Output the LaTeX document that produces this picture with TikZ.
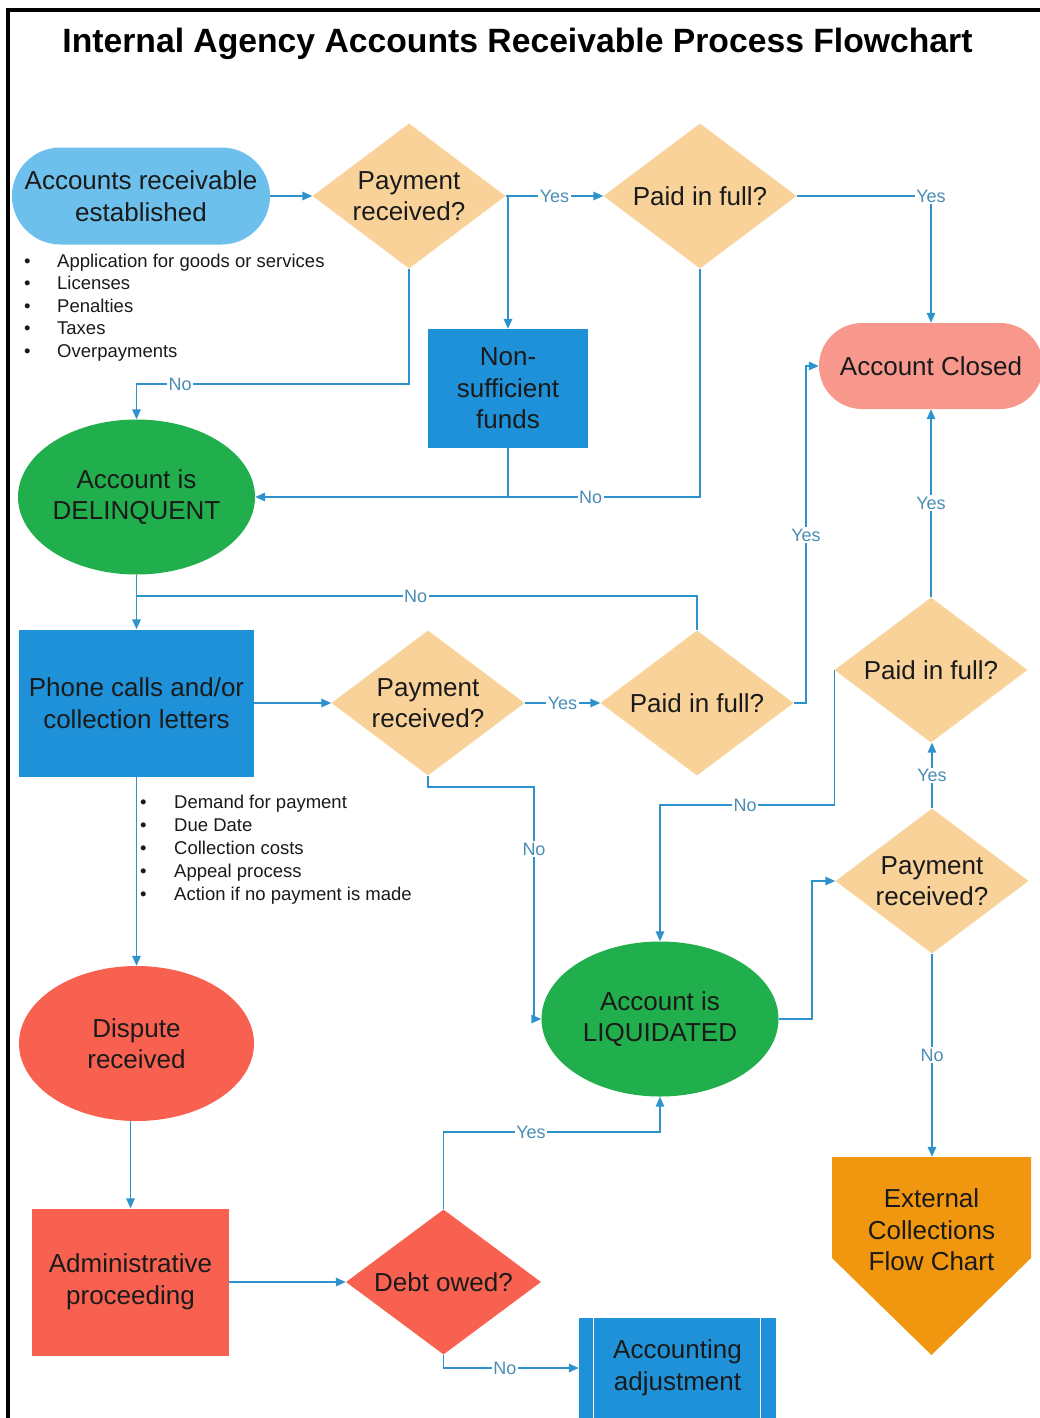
\documentclass[tikz,border=0pt]{standalone}
\usepackage{fontspec}
\setmainfont{Liberation Sans}
\usetikzlibrary{shapes.geometric,arrows.meta,calc}
\definecolor{arblue}{HTML}{6CC0EB}
\definecolor{peach}{HTML}{F9D29A}
\definecolor{boxblue}{HTML}{1E91D8}
\definecolor{leaf}{HTML}{21AE4C}
\definecolor{salmon}{HTML}{F8978B}
\definecolor{tomato}{HTML}{F86150}
\definecolor{amber}{HTML}{F0970F}
\definecolor{wire}{HTML}{2E93CC}
\definecolor{lblc}{HTML}{4A8DB5}
\definecolor{ink}{HTML}{1A1A1A}
\begin{document}
\begin{tikzpicture}[x=1pt,y=-1pt,
  base/.style={inner sep=0pt, align=center, text=ink, font=\fontsize{26}{31.5}\selectfont},
  decision/.style={base, shape=diamond, aspect=1.333, fill=peach, minimum width=193pt, minimum height=145pt},
  stadium/.style={base, rectangle, rounded corners=#1},
  oval/.style={base, ellipse, fill=leaf, minimum width=237pt, minimum height=155pt},
  procbox/.style={base, rectangle, fill=boxblue},
  ln/.style={draw=wire, line width=1.6pt},
  arr/.style={ln, -{Triangle[length=10pt,width=8.5pt]}},
  lbl/.style={fill=white, inner sep=1.5pt, text=lblc, font=\fontsize{18}{20}\selectfont},
  bullet item/.style={anchor=base west, inner sep=0pt, text=ink, font=\fontsize{18.5}{22}\selectfont}
]
\useasboundingbox (0,0) rectangle (1039,1418);
% frame
\draw[line width=4pt, line join=miter] (8,1422) -- (8,10) -- (1043,10);

% title
\node[anchor=base, inner sep=0pt, text=black, font=\fontsize{33.7}{40}\selectfont\bfseries] (title) at (517.5,53) {Internal Agency Accounts Receivable Process Flowchart};

% nodes
\node[stadium=48.5pt, fill=arblue, minimum width=258pt, minimum height=97pt] (ar) at (141,196) {Accounts receivable\\established};
\node[decision] (pr1) at (409,196) {Payment\\received?};
\node[decision] (pf1) at (700,196) {Paid in full?};
\node[procbox, minimum width=160pt, minimum height=119pt] (nsf) at (508,388.5) {Non-\\sufficient\\funds};
\node[stadium=43pt, fill=salmon, minimum width=224pt, minimum height=86pt] (closed) at (931,366) {Account Closed};
\node[oval, minimum width=235pt] (del) at (136.5,497) {Account is\\DELINQUENT};
\node[procbox, minimum width=235pt, minimum height=147pt] (phone) at (136.5,703) {Phone calls and/or\\collection letters};
\node[decision] (pr2) at (428,703) {Payment\\received?};
\node[decision] (pf2) at (697,703) {Paid in full?};
\node[decision] (pf3) at (931,670) {Paid in full?};
\node[decision] (pr3) at (932,881) {Payment\\received?};
\node[oval] (liq) at (660,1019) {Account is\\LIQUIDATED};
\node[oval, fill=tomato, minimum width=235pt] (disp) at (136.5,1043.5) {Dispute\\received};
\node[procbox, fill=tomato, minimum width=197pt, minimum height=147pt] (admin) at (130.5,1282) {Administrative\\proceeding};
\node[decision, fill=tomato, minimum width=195pt] (debt) at (443.5,1282) {Debt owed?};
\node[procbox, minimum width=197pt, minimum height=100pt] (acc) at (677.5,1368) {Accounting\\adjustment};
\draw[white, line width=1.3pt] ([xshift=15pt]acc.north west) -- ([xshift=15pt]acc.south west)
  ([xshift=-16pt]acc.north east) -- ([xshift=-16pt]acc.south east);
\fill[amber] (832,1157) -- (1031,1157) -- (1031,1258) -- (931.5,1355) -- (832,1258) -- cycle;
\node[base, minimum width=199pt, minimum height=146pt] (ext) at (931.5,1230) {External\\Collections\\Flow Chart};

% bullet lists
\foreach \t [count=\i] in {Application for goods or services,Licenses,Penalties,Taxes,Overpayments}
  \node[bullet item] (la\i) at ({24},{244.5+22.5*\i}) {\makebox[33pt][l]{\textbullet}\t};
\foreach \t [count=\i] in {Demand for payment,Due Date,Collection costs,Appeal process,Action if no payment is made}
  \node[bullet item] (lb\i) at ({140},{785.6+22.9*\i}) {\makebox[34pt][l]{\textbullet}\t};

% helper coordinates for bends
\coordinate (yA) at (0,384);
\coordinate (yB) at (0,596);
\coordinate (xC) at (806,0);
\coordinate (bD) at (534,787);
\coordinate (yE) at (0,805);
\coordinate (xF) at (812,0);
\coordinate (yG) at (0,1132);

% connectors
\draw[arr] (ar.east) -- (pr1.west);
\draw[arr] (pr1.east) -- node[lbl] (l1) {Yes} (pf1.west);
\draw[arr] (pr1.east) -| (nsf.north);
\draw[arr] (pr1.south) |- node[lbl, pos=0.92] (l2) {No} (del.north |- yA) -- (del.north);
\draw[arr] (pf1.east) -| node[lbl, pos=0.5] (l3) {Yes} (closed.north);
\draw[arr] (pf1.south) |- node[lbl, pos=0.623] (l4) {No} (del.east);
\draw[ln] (nsf.south) -- (nsf.south |- del.east);
\draw[arr] (del.south) -- (phone.north);
\draw[ln] (pf2.north) |- node[lbl, pos=0.751] (l5) {No} (del.south |- yB);
\draw[arr] (phone.east) -- (pr2.west);
\draw[arr] (pr2.east) -- node[lbl] (l6) {Yes} (pf2.west);
\draw[arr] (pf2.east) -- (pf2.east -| xC) |- node[lbl, pos=0.249] (l7) {Yes} (closed.west);
\draw[arr] (pr2.south) |- (bD) |- node[lbl, pos=0.134] (l8) {No} (liq.west);
\draw[arr] (pf3.west) |- node[lbl, pos=0.756] (l9) {No} (liq.north |- yE) -- (liq.north);
\draw[arr] (pf3.north) -- node[lbl] (l10) {Yes} (closed.south);
\draw[arr] (pr3.north) -- node[lbl] (l11) {Yes} (pr3.north |- pf3.south);
\draw[arr] (liq.east) -- (liq.east -| xF) |- (pr3.west);
\draw[arr] (pr3.south) -- node[lbl] (l12) {No} (pr3.south |- ext.north);
\draw[arr] (phone.south) -- (disp.north);
\draw[arr] (admin.north |- disp.south) -- (admin.north);
\draw[arr] (admin.east) -- (debt.west);
\draw[arr] (debt.north) |- node[lbl, pos=0.702] (l13) {Yes} (liq.south |- yG) -- (liq.south);
\draw[arr] (debt.south) |- node[lbl, pos=0.727] (l14) {No} (acc.west);
\end{tikzpicture}
\end{document}
